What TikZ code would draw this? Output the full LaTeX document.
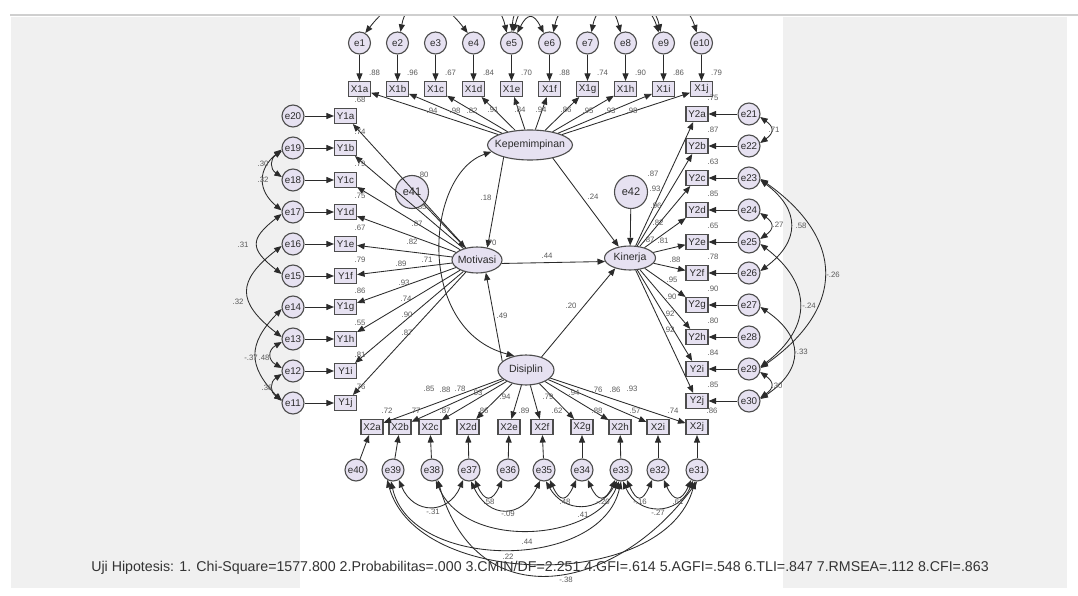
\documentclass[tikz,border=0pt]{standalone}
\usepackage{fontspec}
\setmainfont{Liberation Sans}
\usetikzlibrary{arrows.meta,shapes.geometric}
\definecolor{lav}{HTML}{E6E1F1}
\definecolor{bord}{HTML}{4D4D4D}
\definecolor{lbl}{HTML}{5A5A5A}
\definecolor{panel}{HTML}{F0F0F0}
\definecolor{ink}{HTML}{2B2B2B}
\definecolor{topline}{HTML}{CFCFCF}
\begin{document}
\begin{tikzpicture}[x=1pt,y=-1pt,
  obs/.style={draw=bord,line width=1.1pt,fill=lav,minimum width=22pt,minimum height=15pt,inner sep=1pt,text=ink,font=\fontsize{9.8}{10}\selectfont},
  err/.style={circle,draw=bord,line width=1.1pt,fill=lav,minimum size=22pt,inner sep=0pt,text=ink,font=\fontsize{9.8}{10}\selectfont},
  bigerr/.style={err,minimum size=33pt,font=\fontsize{11}{12}\selectfont},
  lat/.style={ellipse,draw=bord,line width=1.1pt,fill=lav,inner sep=0pt},
  lattext/.style={text=ink,font=\fontsize{10.5}{11}\selectfont,inner sep=0pt},
  arr/.style={draw=ink,line width=0.85pt,-{Triangle[length=7.5pt,width=6pt]}},
  dbl/.style={draw=ink,line width=0.85pt,{Triangle[length=7.5pt,width=6pt]}-{Triangle[length=7.5pt,width=6pt]}},
  num/.style={font=\fontsize{7.8}{8}\selectfont,text=lbl,inner sep=0pt},
]
\useasboundingbox (0,0) rectangle (1078,596);
\fill[white] (0,0) rectangle (1078,596);
\fill[panel] (11,17) rectangle (1067,588);
\fill[white] (300,17) rectangle (783,588);
\draw[topline,line width=1.2pt] (10,15) -- (1078,15);

% latent variables
\node[lat,minimum width=85pt,minimum height=30pt,label={[lattext]center:Kepemimpinan}] (KEP) at (530,145) {};
\node[lat,minimum width=50pt,minimum height=26pt,label={[lattext]center:Motivasi}] (MOT) at (477,260) {};
\node[lat,minimum width=51pt,minimum height=24pt,label={[lattext]center:Kinerja}] (KIN) at (630,258) {};
\node[lat,minimum width=56pt,minimum height=30pt,label={[lattext]center:Disiplin}] (DIS) at (526,370) {};

% label that lies under e41
\node[num] (h1) at (421,207) {.85};

\node[bigerr] (e41) at (412,192) {e41};
\node[bigerr] (e42) at (631,192) {e42};

% indicators and errors
\foreach \l/\x [count=\i] in {a/359.5,b/397.5,c/435.5,d/473.5,e/511.5,f/549.5,g/587.5,h/625.5,i/663.5,j/701.5}{
  \node[obs] (X1\l) at (\x,89) {X1\l};
  \node[err] (e\i) at (\x,43) {e\i};
}
\foreach \l/\y [count=\i] in {a/116,b/148,c/180,d/212,e/244,f/276,g/307,h/339,i/371,j/403}{
  \pgfmathtruncatemacro{\k}{21-\i}
  \node[obs] (Y1\l) at (345.5,\y) {Y1\l};
  \node[err] (e\k) at (293,\y) {e\k};
}
\foreach \l/\y [count=\i] in {a/114,b/146,c/178,d/210,e/242,f/273,g/305,h/337,i/369,j/401}{
  \pgfmathtruncatemacro{\k}{20+\i}
  \node[obs] (Y2\l) at (697,\y) {Y2\l};
  \node[err] (e\k) at (749,\y) {e\k};
}
\foreach \l/\x/\ex [count=\i] in {a/372/356,b/400/393,c/430/432,d/468/469,e/509/508,f/542/544,g/582/582,h/620/621,i/658/658,j/697/697}{
  \pgfmathtruncatemacro{\k}{41-\i}
  \node[obs] (X2\l) at (\x,427) {X2\l};
  \node[err] (e\k) at (\ex,470) {e\k};
}

% measurement arrows
\foreach \l [count=\i] in {a,b,c,d,e,f,g,h,i,j}{
  \draw[arr] (e\i) -- (X1\l);
  \draw[arr] (KEP) -- (X1\l);
  \pgfmathtruncatemacro{\k}{21-\i}
  \draw[arr] (e\k) -- (Y1\l);
  \draw[arr] (MOT) -- (Y1\l);
  \pgfmathtruncatemacro{\m}{20+\i}
  \draw[arr] (e\m) -- (Y2\l);
  \draw[arr] (KIN) -- (Y2\l);
  \pgfmathtruncatemacro{\n}{41-\i}
  \draw[arr] (e\n) -- (X2\l);
  \draw[arr] (DIS) -- (X2\l);
}

% structural arrows
\draw[arr] (KEP.205) -- (MOT.50);
\draw[arr] (KEP.-30) -- (KIN.135);
\draw[arr] (MOT.-8) -- (KIN.188);
\draw[arr] (DIS.40) -- (KIN.215);
\draw[arr] (DIS.160) -- (MOT.-55);
\draw[arr] (e41) -- (MOT);
\draw[arr] (e42) -- (KIN);
\draw[dbl] (KEP.190) .. controls (425,175) and (415,330) .. (DIS.130);

% top covariances (cut by the panel edge)
\begin{scope}
\clip (0,17) rectangle (1078,600);
\draw[dbl] (e1.60) .. controls +(35,-45) and +(-35,-45) .. (e4.120);
\draw[dbl] (e2.75) .. controls +(10,-55) and +(-12,-55) .. (e5.115);
\draw[dbl] (e5.60) .. controls +(10,-20) and +(-10,-20) .. (e6.120);
\draw[dbl] (e5.80) .. controls +(15,-60) and +(-15,-60) .. (e8.115);
\draw[dbl] (e5.88) .. controls +(5,-70) and +(-12,-60) .. (e9.105);
\draw[dbl] (e6.70) .. controls +(10,-50) and +(-15,-50) .. (e9.115);
\draw[dbl] (e7.70) .. controls +(10,-50) and +(-15,-50) .. (e10.115);
\end{scope}

% right covariances
\draw[dbl] (e21.-15) .. controls +(14,10) and +(14,-10) .. (e22.15);
\draw[dbl] (e24.-15) .. controls +(14,10) and +(14,-10) .. (e25.15);
\draw[dbl] (e23.-10) .. controls +(40,30) and +(40,-30) .. (e26.10);
\draw[dbl] (e23.-5) .. controls +(85,60) and +(85,-60) .. (e29.5);
\draw[dbl] (e25.-10) .. controls +(52,40) and +(52,-40) .. (e29.10);
\draw[dbl] (e27.-10) .. controls +(44,30) and +(44,-30) .. (e30.10);
\draw[dbl] (e29.-15) .. controls +(14,10) and +(14,-10) .. (e30.15);

% left covariances
\draw[dbl] (e19.195) .. controls +(-12,8) and +(-12,-8) .. (e18.165);
\draw[dbl] (e19.188) .. controls +(-24,20) and +(-24,-20) .. (e17.172);
\draw[dbl] (e17.190) .. controls +(-32,25) and +(-32,-25) .. (e15.170);
\draw[dbl] (e16.190) .. controls +(-45,35) and +(-45,-35) .. (e13.170);
\draw[dbl] (e14.190) .. controls +(-34,35) and +(-34,-35) .. (e11.170);
\draw[dbl] (e13.195) .. controls +(-14,8) and +(-14,-8) .. (e12.165);
\draw[dbl] (e12.195) .. controls +(-12,8) and +(-12,-8) .. (e11.165);

% bottom covariances
\draw[dbl] (e39.-60) .. controls +(15,35) and +(-15,35) .. (e37.-120);
\draw[dbl] (e37.-60) .. controls +(10,22) and +(-10,22) .. (e36.-120);
\draw[dbl] (e37.-80) .. controls +(18,38) and +(-18,38) .. (e35.-110);
\draw[dbl] (e35.-60) .. controls +(10,22) and +(-10,22) .. (e34.-120);
\draw[dbl] (e35.-80) .. controls +(18,32) and +(-18,32) .. (e33.-110);
\draw[dbl] (e34.-60) .. controls +(10,22) and +(-10,22) .. (e33.-120);
\draw[dbl] (e33.-60) .. controls +(10,22) and +(-10,22) .. (e32.-120);
\draw[dbl] (e32.-60) .. controls +(10,22) and +(-10,22) .. (e31.-120);
\draw[dbl] (e33.-80) .. controls +(15,35) and +(-15,35) .. (e31.-110);
\draw[dbl] (e38.-70) .. controls +(30,70) and +(-25,60) .. (e33.-100);
\draw[dbl] (e39.-100) .. controls +(20,90) and +(-20,90) .. (e33.-90);
\draw[dbl] (e39.-120) .. controls +(30,110) and +(-30,110) .. (e31.-100);
\draw[dbl] (e38.-60) .. controls +(40,140) and +(-80,110) .. (e31.-90);

% squared multiple correlations
\foreach \x/\v [count=\i] in {359.5/.88,397.5/.96,435.5/.67,473.5/.84,511.5/.70,549.5/.88,587.5/.74,625.5/.90,663.5/.86,701.5/.79}
  \node[num] (ra\i) at (\x+15,73) {\v};
\foreach \y/\v [count=\i] in {116/.68,148/.74,180/.79,212/.75,244/.67,276/.79,307/.86,339/.55,371/.81,403/.76}
  \node[num] (rb\i) at (360,\y-16) {\v};
\foreach \y/\v [count=\i] in {114/.75,146/.87,178/.63,210/.85,242/.65,273/.78,305/.90,337/.80,369/.84,401/.85}
  \node[num] (rc\i) at (713,\y-16) {\v};
\foreach \x/\v [count=\i] in {372/.72,400/.77,430/.87,468/.86,509/.89,542/.62,582/.88,620/.57,658/.74,697/.86}
  \node[num] (rd\i) at (\x+15,411) {\v};

% loadings
\foreach \x/\y/\v [count=\i] in {432/111/.94,455/111/.98,472/111/.82,493/110/.91,520/110/.84,541/110/.94,566/110/.86,588/111/.95,610/111/.93,632/111/.98}
  \node[num] (la\i) at (\x,\y) {\v};
\foreach \x/\y/\v [count=\i] in {423/175/.80,417/224/.87,412/242/.82,401/264/.89,427/260/.71,404/283/.93,406/299/.74,407/315/.90,407/333/.87}
  \node[num] (lb\i) at (\x,\y) {\v};
\foreach \x/\y/\v [count=\i] in {653/174/.87,655/189/.93,656/206/.96,658/223/.82,649/240/.87,663/241/.81,675/260/.88,672/280/.95,671/297/.90,669/314/.92,669/330/.92}
  \node[num] (lc\i) at (\x,\y) {\v};
\foreach \x/\y/\v [count=\i] in {429/389/.85,445/390/.88,460/389/.78,477/393/.93,505/397/.94,548/397/.79,574/393/.94,597/390/.76,615/390/.86,632/389/.93}
  \node[num] (ld\i) at (\x,\y) {\v};

% structural estimates
\node[num] (s1) at (486,198) {.18};
\node[num] (s2) at (593,197) {.24};
\node[num] (s3) at (547,256) {.44};
\node[num] (s4) at (502,316) {.49};
\node[num] (s5) at (571,306) {.20};
\node[num] (s6) at (491,243) {.70};

% covariance estimates
\foreach \x/\y/\v [count=\i] in {774/130/.71,778/225/.27,801/226/.58,833/275/-.26,809/306/-.24,801/352/-.33,777/386/.30,
  263/164/.30,263/180/.32,243/245/.31,238/302/.32,251/358/-.37,264/358/.48,267/388/.38,
  433/512/-.31,489/502/.58,508/514/-.09,565/502/.48,603/502/-.20,583/515/.41,640/502/-.16,678/502/.61,658/513/-.27,527/542/.44,508/557/.22,566/580/-.38}
  \node[num] (c\i) at (\x,\y) {\v};

% footer
\node[font=\fontsize{14.2}{15}\selectfont,text=black!80,inner sep=0pt] (foot) at (540,568)
  {Uji Hipotesis: 1. Chi-Square=1577.800 2.Probabilitas=.000 3.CMIN/DF=2.251 4.GFI=.614 5.AGFI=.548 6.TLI=.847 7.RMSEA=.112 8.CFI=.863};
\end{tikzpicture}
\end{document}
